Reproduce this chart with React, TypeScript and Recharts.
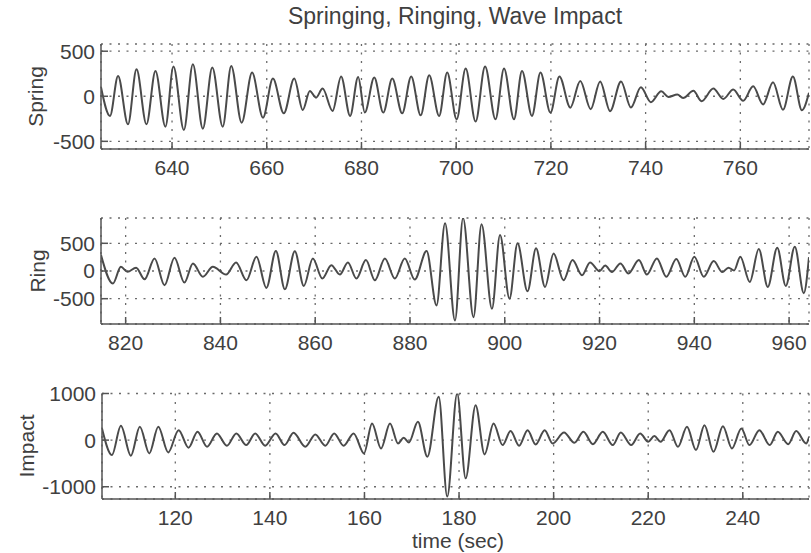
import React from 'react';
import { LineChart, Line, XAxis, YAxis, CartesianGrid } from 'recharts';

// ---- Spring (springing) panel ----
const springTime = [
  625.0, 626.9, 628.6, 630.7, 632.5, 634.6, 636.5, 638.6, 640.3, 642.5,
  644.4, 646.5, 648.5, 650.7, 652.5, 654.7, 656.9, 659.2, 661.3, 663.6,
  665.8, 667.6, 669.1, 670.4, 671.8, 673.9, 675.7, 677.6, 679.3, 680.7,
  682.7, 684.6, 686.5, 688.6, 690.5, 692.5, 694.3, 696.4, 698.1, 700.1,
  702.0, 704.1, 706.1, 708.3, 710.1, 712.2, 713.9, 716.0, 717.8, 719.9,
  721.8, 724.1, 726.2, 728.4, 730.4, 732.5, 734.8, 736.9, 739.0, 741.1,
  743.3, 744.8, 746.7, 747.9, 750.1, 751.8, 754.3, 756.4, 758.5, 760.6,
  762.7, 764.8, 766.9, 769.0, 771.1, 773.0, 774.5,
];
const springValue = [
  100, -218, 226, -311, 300, -311, 281, -337, 330, -374,
  355, -359, 319, -337, 337, -293, 263, -237, 196, -189,
  196, -152, 59, -15, 85, -163, 219, -218, 215, -181,
  207, -181, 196, -189, 219, -211, 233, -218, 263, -256,
  307, -281, 330, -256, 307, -256, 281, -218, 263, -181,
  219, -126, 170, -144, 165, -165, 165, -125, 100, -65,
  55, -7, 19, -19, 60, -55, 85, -30, 75, -50,
  110, -90, 155, -150, 220, -155, 40,
];
const springXTicks = [640, 660, 680, 700, 720, 740, 760];
const springYTicks = [-500, 0, 500];

// ---- Ring (ringing) panel ----
const ringTime = [
  814.8, 817.3, 819.0, 820.4, 822.2, 824.0, 826.1, 828.2, 830.3, 832.4,
  834.2, 836.3, 838.4, 841.2, 843.3, 845.5, 847.6, 849.7, 851.7, 853.6,
  855.7, 857.6, 859.5, 861.5, 863.4, 865.2, 866.9, 868.7, 870.7, 872.6,
  874.7, 876.8, 878.9, 881.0, 883.5, 885.6, 887.4, 889.5, 891.2, 893.4,
  895.1, 897.3, 899.0, 901.0, 902.7, 904.8, 906.6, 908.5, 910.3, 912.4,
  914.3, 916.3, 918.0, 920.0, 921.2, 922.6, 924.4, 926.1, 928.3, 930.0,
  932.1, 934.1, 936.2, 938.1, 940.0, 942.0, 944.1, 945.9, 947.2, 948.4,
  949.7, 951.7, 953.6, 955.5, 957.5, 959.3, 961.2, 963.1, 964.2,
];
const ringValue = [
  287, -227, 76, -15, 58, -149, 227, -258, 240, -209,
  136, -105, 76, -64, 155, -167, 258, -305, 360, -330,
  355, -269, 227, -136, 106, -64, 155, -136, 197, -167,
  227, -136, 227, -155, 360, -621, 864, -894, 955, -833,
  845, -682, 651, -500, 500, -367, 409, -287, 318, -167,
  197, -76, 155, -3, 100, -20, 136, -45, 197, -64,
  227, -105, 215, -105, 258, -105, 179, -20, 60, 10,
  258, -197, 397, -287, 421, -269, 439, -400, 250,
];
const ringXTicks = [820, 840, 860, 880, 900, 920, 940, 960];
const ringYTicks = [-500, 0, 500];

// ---- Impact (wave impact) panel ----
const impactTime = [
  104.5, 106.6, 108.5, 110.6, 112.5, 114.5, 116.4, 118.5, 120.7, 122.8,
  124.7, 126.7, 128.8, 130.9, 132.9, 135.0, 136.9, 139.0, 141.2, 143.1,
  145.0, 147.5, 149.6, 151.7, 153.6, 155.6, 157.7, 159.9, 161.6, 163.5,
  165.4, 167.1, 168.3, 169.4, 171.3, 173.3, 175.7, 177.5, 179.6, 181.4,
  183.5, 185.4, 187.3, 189.2, 190.9, 192.7, 194.5, 196.2, 198.1, 199.8,
  202.2, 204.4, 206.3, 208.3, 210.4, 212.5, 214.2, 216.4, 218.3, 220.0,
  221.3, 222.6, 224.5, 226.3, 228.2, 230.1, 231.9, 233.8, 235.8, 237.7,
  239.7, 241.4, 243.5, 245.7, 247.4, 249.6, 251.3, 253.4, 254.0,
];
const impactValue = [
  250, -321, 308, -334, 287, -285, 287, -263, 214, -163,
  180, -141, 143, -120, 143, -107, 143, -120, 143, -107,
  160, -141, 122, -120, 143, -120, 143, -285, 357, -178,
  357, -71, 51, -49, 394, -356, 929, -1212, 1000, -820,
  750, -306, 357, -107, 193, -120, 214, -92, 214, -71,
  164, -57, 178, -86, 178, -107, 164, -107, 143, -36,
  86, -36, 214, -143, 285, -214, 321, -250, 300, -178,
  250, -107, 214, -107, 178, -86, 193, -71, 60,
];
const impactXTicks = [120, 140, 160, 180, 200, 220, 240];
const impactYTicks = [-1000, 0, 1000];

const titleText = 'Springing, Ringing, Wave Impact';
const xAxisTitle = 'time (sec)';

const FONT = '"Liberation Sans", Arial, Helvetica, sans-serif';
const INK = '#404040';
const AXIS = '#555555';
const LINE = '#4a4a4a';
const GRID = '#6a6a6a';
const FS = 21;

const FixedText = (props: any) => {
  const { lx, ly, txt, rot, fs } = props;
  return (
    <text
      x={lx}
      y={ly}
      transform={rot ? `rotate(-90 ${lx} ${ly})` : undefined}
      textAnchor="middle"
      fill={INK}
      fontSize={fs || FS}
      fontFamily={FONT}
    >
      {txt}
    </text>
  );
};

type PanelProps = {
  top: number;
  height: number;
  marginTop: number;
  leftW: number;
  xAxisH: number;
  xTickMargin: number;
  time: number[];
  value: number[];
  xDomain: [number, number];
  yDomain: [number, number];
  xTicks: number[];
  yTicks: number[];
  yLabel: string;
  yLabelX: number;
  yLabelY: number;
  xLabel?: string;
};

function Panel(p: PanelProps) {
  const data = p.time.map((t, i) => ({ t, v: p.value[i] }));
  const axisLine = { stroke: AXIS, strokeWidth: 1.5 };
  const tickLine = { stroke: AXIS, strokeWidth: 1.5 };
  const tickStyle = { fill: INK, fontSize: FS, fontFamily: FONT };
  return (
    <div style={{ position: 'absolute', left: 0, top: p.top, width: 811, height: p.height }}>
      <LineChart
        width={811}
        height={p.height}
        data={data}
        margin={{ top: p.marginTop, right: 2, bottom: 0, left: 0 }}
      >
        <CartesianGrid stroke={GRID} strokeDasharray="2 6.5" strokeWidth={1.3} />
        <XAxis
          dataKey="t"
          type="number"
          domain={p.xDomain}
          ticks={p.xTicks}
          interval={0}
          allowDataOverflow
          height={p.xAxisH}
          tickSize={-7}
          tickMargin={p.xTickMargin}
          axisLine={axisLine}
          tickLine={tickLine}
          tick={tickStyle}
          label={
            p.xLabel ? (
              <FixedText lx={458} ly={p.height - 5} txt={p.xLabel} />
            ) : undefined
          }
        />
        <XAxis
          xAxisId="top"
          orientation="top"
          type="number"
          domain={p.xDomain}
          ticks={p.xTicks}
          interval={0}
          allowDataOverflow
          height={0}
          tickSize={-7}
          tickFormatter={() => ''}
          axisLine={axisLine}
          tickLine={tickLine}
        />
        <YAxis
          type="number"
          domain={p.yDomain}
          ticks={p.yTicks}
          interval={0}
          allowDataOverflow
          width={p.leftW}
          tickSize={-7}
          tickMargin={13}
          axisLine={axisLine}
          tickLine={tickLine}
          tick={tickStyle}
          label={<FixedText lx={p.yLabelX} ly={p.yLabelY} txt={p.yLabel} rot />}
        />
        <YAxis
          yAxisId="right"
          orientation="right"
          type="number"
          domain={p.yDomain}
          ticks={p.yTicks}
          interval={0}
          allowDataOverflow
          width={0}
          tickSize={-7}
          tickFormatter={() => ''}
          axisLine={axisLine}
          tickLine={tickLine}
        />
        <Line
          dataKey="v"
          type="monotone"
          stroke={LINE}
          strokeWidth={2}
          dot={false}
          isAnimationActive={false}
        />
      </LineChart>
    </div>
  );
}

export default function App() {
  return (
    <div style={{ position: 'absolute', left: 0, top: 0, width: 811, height: 553, background: '#fff' }}>
      <svg
        width={811}
        height={40}
        style={{ position: 'absolute', left: 0, top: 0, zIndex: 2 }}
      >
        <text x={455} y={24} textAnchor="middle" fill={INK} fontSize={23} fontFamily={FONT}>
          {titleText}
        </text>
      </svg>
      <Panel
        top={0}
        height={190}
        marginTop={44}
        leftW={101}
        xAxisH={41}
        xTickMargin={18}
        time={springTime}
        value={springValue}
        xDomain={[625, 774.5]}
        yDomain={[-585, 580]}
        xTicks={springXTicks}
        yTicks={springYTicks}
        yLabel="Spring"
        yLabelX={42.5}
        yLabelY={96.5}
      />
      <Panel
        top={190}
        height={180}
        marginTop={28}
        leftW={101}
        xAxisH={46}
        xTickMargin={18}
        time={ringTime}
        value={ringValue}
        xDomain={[814.8, 964.2]}
        yDomain={[-957, 957]}
        xTicks={ringXTicks}
        yTicks={ringYTicks}
        yLabel="Ring"
        yLabelX={44.5}
        yLabelY={81}
      />
      <Panel
        top={370}
        height={183}
        marginTop={23.5}
        leftW={102}
        xAxisH={54}
        xTickMargin={18}
        time={impactTime}
        value={impactValue}
        xDomain={[104.5, 254]}
        yDomain={[-1263, 1000]}
        xTicks={impactXTicks}
        yTicks={impactYTicks}
        yLabel="Impact"
        yLabelX={34}
        yLabelY={76}
        xLabel={xAxisTitle}
      />
    </div>
  );
}
